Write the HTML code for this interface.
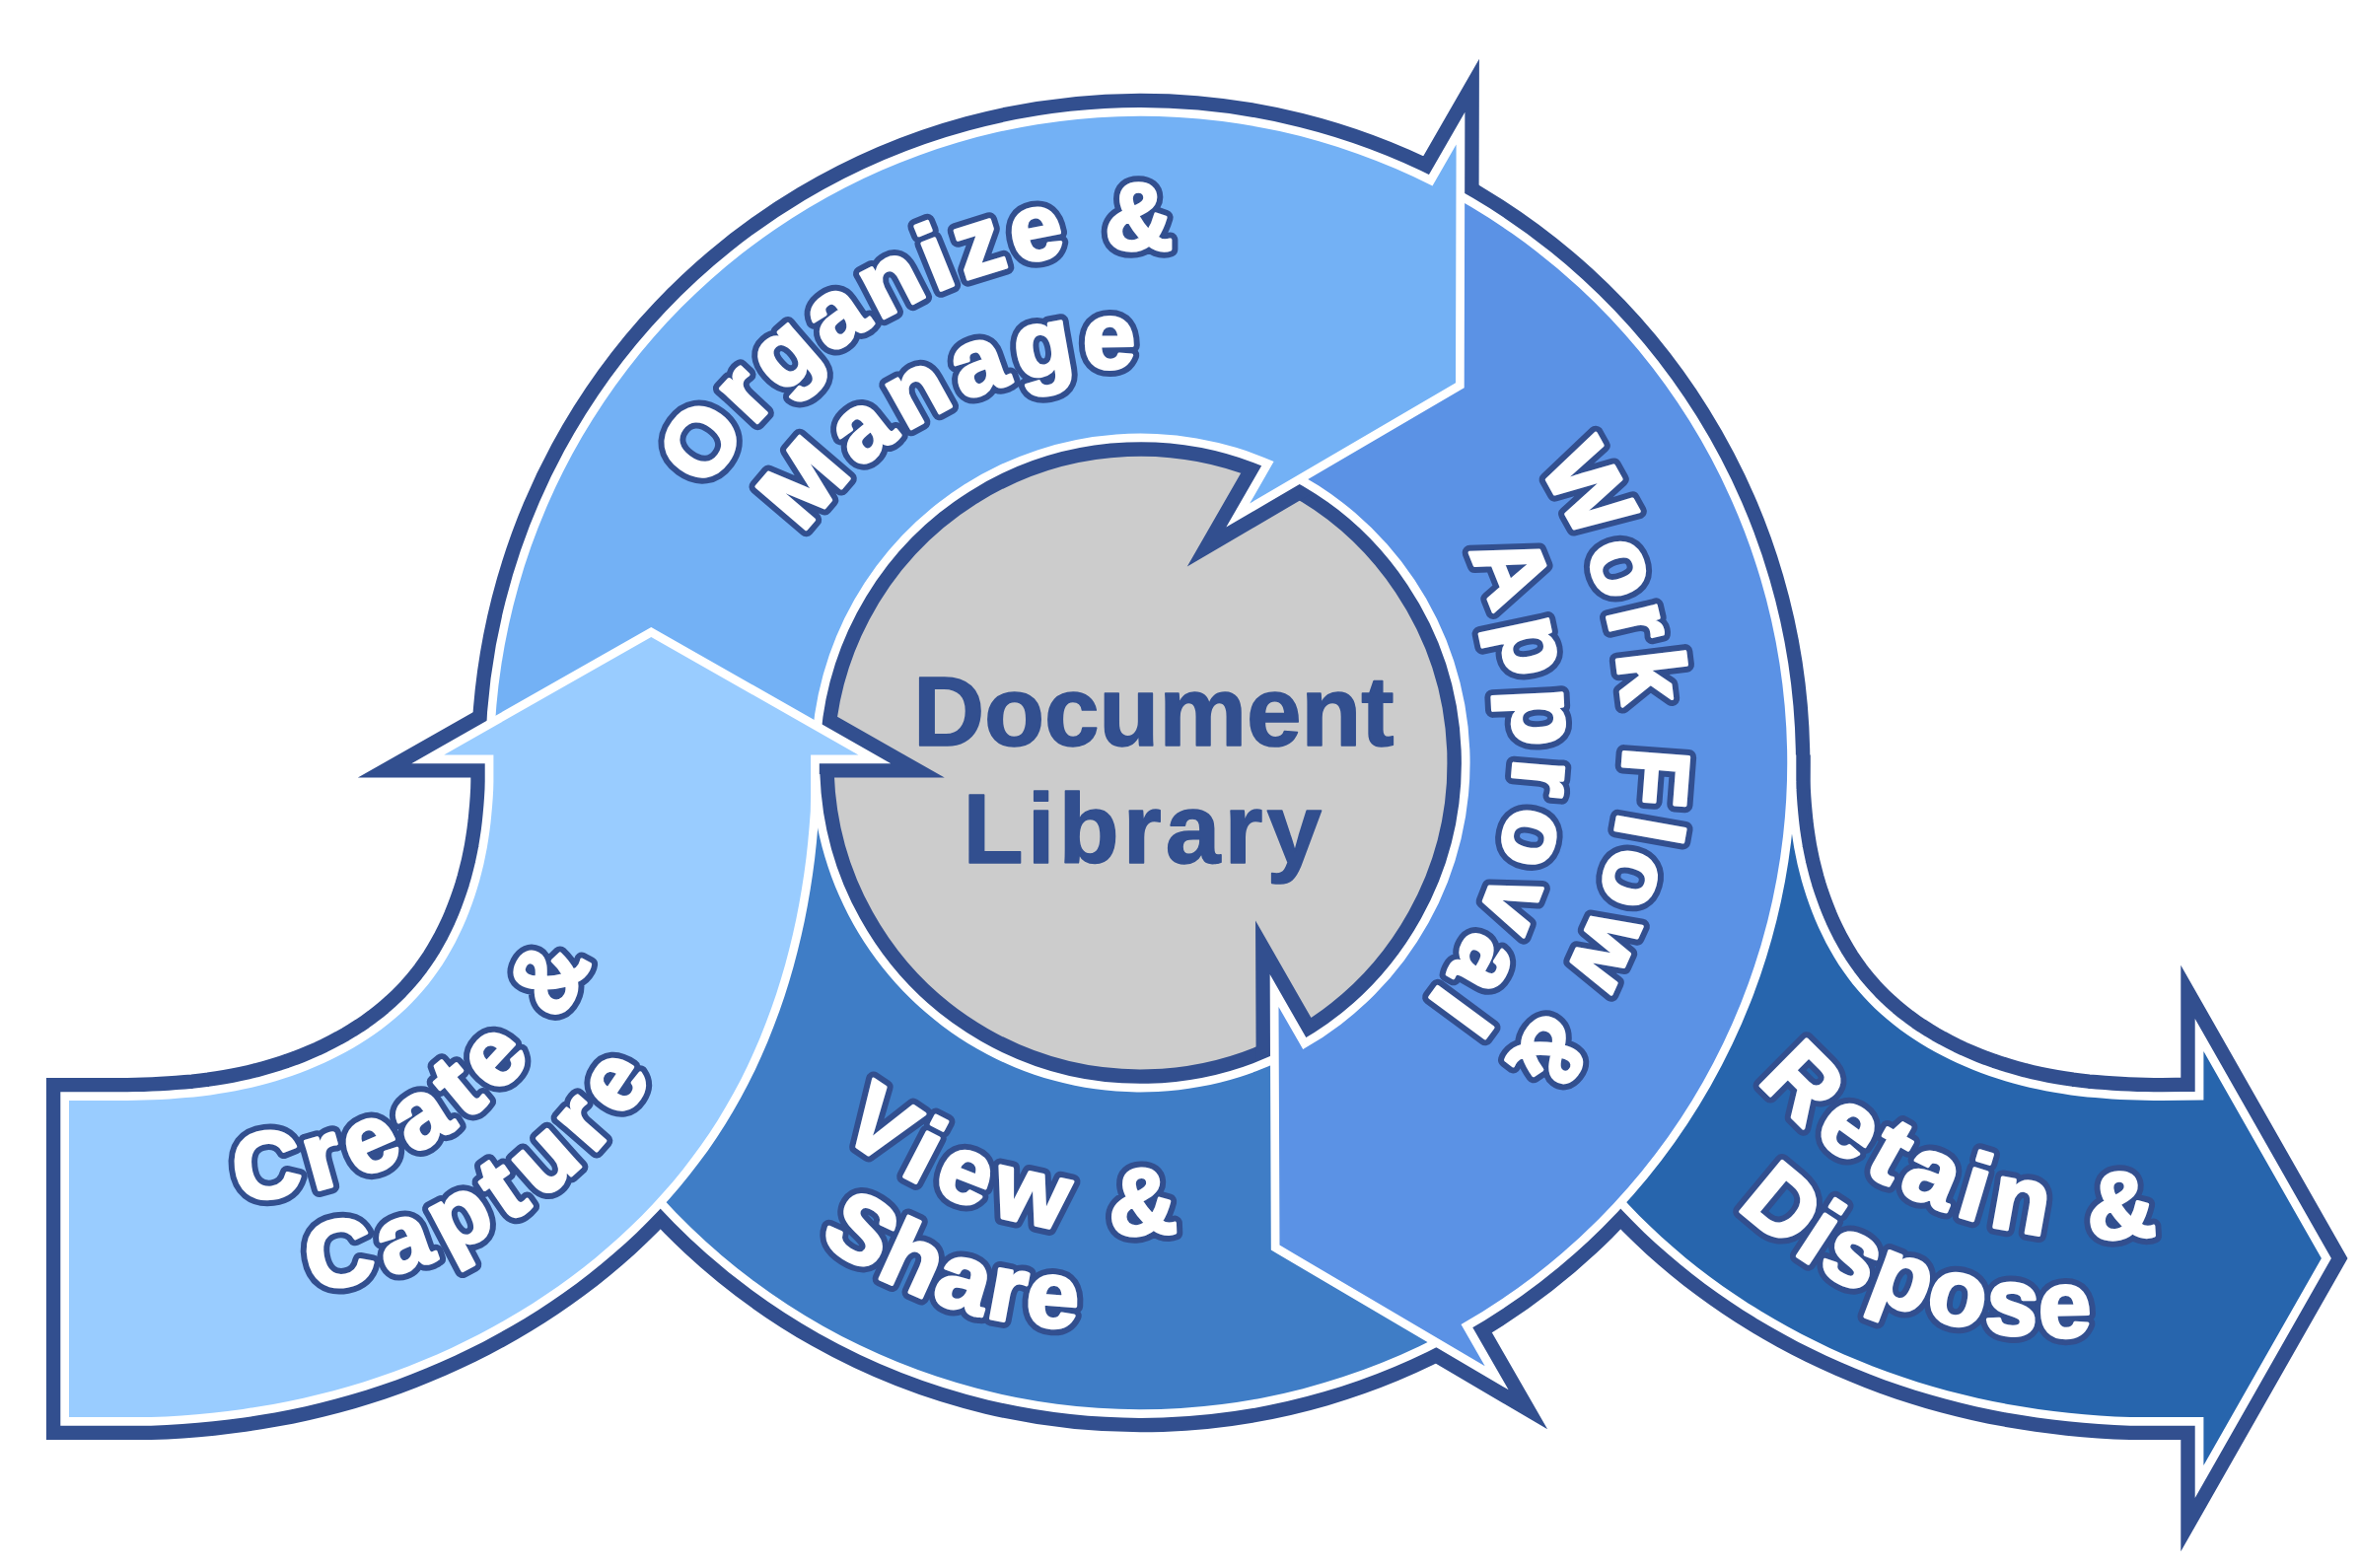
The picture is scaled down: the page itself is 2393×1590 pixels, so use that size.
<!DOCTYPE html>
<html><head><meta charset="utf-8"><title>Document Library Lifecycle</title>
<style>
html,body{margin:0;padding:0;background:#fff;}
body{width:2393px;height:1590px;overflow:hidden;}
svg{display:block;}
text{font-family:"Liberation Sans",sans-serif;font-weight:bold;}
text{font-kerning:none;}
.lbl0{fill:#324F8F;stroke:#324F8F;stroke-linejoin:round;}
.lbl1{fill:#fff;stroke:#fff;stroke-linejoin:round;}
.doc{fill:#324F8F;stroke:#324F8F;stroke-width:1.6px;stroke-linejoin:round;}
</style></head><body>
<!-- domain: Diagram -->
<svg width="2393" height="1590" viewBox="0 0 2393 1590">
<rect width="2393" height="1590" fill="#fff"/>
<circle cx="1156.5" cy="773.5" r="322" fill="#CCCCCC"/>
<g fill="none" stroke="#324F8F" stroke-width="46.2" stroke-linejoin="miter" stroke-miterlimit="10">
<path d="M1490.9 765.5 L1490.9 775.7 L1490.9 791.4 L1490.9 807.0 L1491.2 822.7 L1492.4 838.4 L1493.8 854.1 L1495.5 869.8 L1497.6 885.4 L1500.0 901.0 L1502.7 916.6 L1505.7 932.0 L1509.1 947.4 L1512.8 962.7 L1516.8 977.9 L1521.2 993.0 L1525.9 1008.0 L1531.0 1022.8 L1536.5 1037.5 L1542.6 1053.0 L1548.8 1067.3 L1555.3 1081.4 L1562.2 1095.4 L1569.5 1109.1 L1577.2 1122.6 L1585.2 1135.9 L1593.6 1148.9 L1602.3 1161.6 L1611.5 1174.1 L1621.0 1186.4 L1630.8 1198.4 L1641.0 1210.1 L1651.4 1221.5 L1662.2 1232.7 L1673.3 1243.6 L1684.7 1254.3 L1697.2 1265.3 L1709.1 1275.4 L1721.3 1285.2 L1733.8 1294.7 L1746.5 1303.9 L1759.4 1312.8 L1772.5 1321.4 L1785.9 1329.8 L1799.5 1337.8 L1813.2 1345.5 L1827.1 1353.0 L1841.2 1360.1 L1855.4 1366.9 L1869.8 1373.4 L1884.4 1379.6 L1899.0 1385.5 L1913.8 1391.0 L1929.7 1396.6 L1944.6 1401.5 L1959.7 1406.0 L1974.8 1410.2 L1990.0 1414.1 L2005.3 1417.7 L2020.6 1421.0 L2036.0 1423.9 L2051.4 1426.5 L2066.8 1428.9 L2082.3 1430.9 L2097.8 1432.7 L2113.4 1434.2 L2128.9 1435.4 L2144.5 1436.4 L2160.1 1437.0 L2175.7 1437.0 L2192.3 1437.0 L2234.4 1437.0 L2234.4 1486.0 L2353.9 1276.0 L2234.4 1066.0 L2234.4 1115.4 L2192.4 1116.0 L2183.7 1116.0 L2174.9 1115.8 L2166.8 1115.6 L2158.1 1115.3 L2150.0 1114.9 L2141.3 1114.4 L2133.2 1113.8 L2124.5 1113.1 L2116.5 1112.4 L2107.8 1111.4 L2099.8 1110.4 L2091.1 1109.1 L2083.1 1107.8 L2074.4 1106.2 L2066.4 1104.6 L2057.8 1102.7 L2049.8 1100.8 L2041.3 1098.5 L2033.4 1096.2 L2024.9 1093.6 L2017.1 1091.0 L2008.8 1088.0 L2001.1 1085.0 L1992.9 1081.6 L1984.8 1078.1 L1977.4 1074.6 L1969.5 1070.6 L1962.3 1066.8 L1954.7 1062.5 L1947.7 1058.3 L1940.3 1053.6 L1933.6 1049.1 L1926.6 1044.0 L1920.2 1039.1 L1913.5 1033.6 L1907.4 1028.3 L1901.1 1022.5 L1895.4 1016.8 L1889.5 1010.6 L1884.2 1004.6 L1878.7 997.9 L1873.8 991.6 L1868.8 984.5 L1864.3 977.9 L1859.7 970.5 L1855.7 963.5 L1851.5 955.9 L1847.6 948.1 L1844.1 940.8 L1840.6 932.7 L1837.6 925.2 L1834.5 916.9 L1831.8 909.2 L1829.1 900.8 L1826.8 892.9 L1824.6 884.4 L1822.6 876.4 L1820.8 867.8 L1819.2 859.7 L1817.8 851.0 L1816.6 842.9 L1815.5 834.2 L1814.7 826.1 L1813.9 817.3 L1813.3 809.2 L1812.8 800.4 L1812.6 792.2 L1812.6 783.5 L1812.6 775.3 L1812.6 765.5"/>
<path d="M501.2 796.4 A655.7 655.7 0 0 0 1476.3 1345.9 M1315.9 1067.0 A334.0 334.0 0 0 1 822.7 785.2"/>
<path d="M1457.8 191.1 A655.7 655.7 0 0 1 1481.5 1343.0 L1505.7 1385.2 L1297.5 1262.6 L1296.5 1021.0 L1321.2 1064.1 A334.0 334.0 0 0 0 1297.1 470.5"/>
<path d="M501.0 756.3 A655.7 655.7 0 0 1 1452.5 188.4 L1476.6 146.5 L1476.0 388.3 L1267.2 510.5 L1291.6 468.1 A334.0 334.0 0 0 0 822.6 764.8"/>
<path d="M70.0 1116.0 L120.6 1116.0 L129.3 1116.0 L138.1 1115.8 L146.2 1115.6 L154.9 1115.3 L163.0 1114.9 L171.7 1114.4 L179.8 1113.8 L188.5 1113.1 L196.5 1112.4 L205.2 1111.4 L213.2 1110.4 L221.9 1109.1 L229.9 1107.8 L238.6 1106.2 L246.6 1104.6 L255.2 1102.7 L263.2 1100.8 L271.7 1098.5 L279.6 1096.2 L288.1 1093.6 L295.9 1091.0 L304.2 1088.0 L311.9 1085.0 L320.1 1081.6 L328.2 1078.1 L335.6 1074.6 L343.5 1070.6 L350.7 1066.8 L358.3 1062.5 L365.3 1058.3 L372.7 1053.6 L379.4 1049.1 L386.4 1044.0 L392.8 1039.1 L399.5 1033.6 L405.6 1028.3 L411.9 1022.5 L417.6 1016.8 L423.5 1010.6 L428.8 1004.6 L434.3 997.9 L439.2 991.6 L444.2 984.5 L448.7 977.9 L453.3 970.5 L457.3 963.5 L461.5 955.9 L465.4 948.1 L468.9 940.8 L472.4 932.7 L475.4 925.2 L478.5 916.9 L481.2 909.2 L483.9 900.8 L486.2 892.9 L488.4 884.4 L490.4 876.4 L492.2 867.8 L493.8 859.7 L495.2 851.0 L496.4 842.9 L497.5 834.2 L498.3 826.1 L499.1 817.3 L499.7 809.2 L500.2 800.4 L500.4 792.2 L500.4 783.5 L500.4 775.3 L500.4 765.5 L450.2 765.5 L660.3 646.0 L870.4 765.5 L822.1 765.5 L822.1 775.7 L822.1 791.4 L822.1 807.0 L821.8 822.7 L820.6 838.4 L819.2 854.1 L817.5 869.8 L815.4 885.4 L813.0 901.0 L810.3 916.6 L807.3 932.0 L803.9 947.4 L800.2 962.7 L796.2 977.9 L791.8 993.0 L787.1 1008.0 L782.0 1022.8 L776.5 1037.5 L770.4 1053.0 L764.2 1067.3 L757.7 1081.4 L750.8 1095.4 L743.5 1109.1 L735.8 1122.6 L727.8 1135.9 L719.4 1148.9 L710.7 1161.6 L701.5 1174.1 L692.0 1186.4 L682.2 1198.4 L672.0 1210.1 L661.6 1221.5 L650.8 1232.7 L639.7 1243.6 L628.3 1254.3 L615.8 1265.3 L603.9 1275.4 L591.7 1285.2 L579.2 1294.7 L566.5 1303.9 L553.6 1312.8 L540.5 1321.4 L527.1 1329.8 L513.5 1337.8 L499.8 1345.5 L485.9 1353.0 L471.8 1360.1 L457.6 1366.9 L443.2 1373.4 L428.6 1379.6 L414.0 1385.5 L399.2 1391.0 L383.3 1396.6 L368.4 1401.5 L353.3 1406.0 L338.2 1410.2 L323.0 1414.1 L307.7 1417.7 L292.4 1421.0 L277.0 1423.9 L261.6 1426.5 L246.2 1428.9 L230.7 1430.9 L215.2 1432.7 L199.6 1434.2 L184.1 1435.4 L168.5 1436.4 L152.9 1437.0 L137.3 1437.0 L120.7 1437.0 L70.0 1437.0 Z"/>
</g>
<path d="M1490.9 765.5 L1490.9 775.7 L1490.9 791.4 L1490.9 807.0 L1491.2 822.7 L1492.4 838.4 L1493.8 854.1 L1495.5 869.8 L1497.6 885.4 L1500.0 901.0 L1502.7 916.6 L1505.7 932.0 L1509.1 947.4 L1512.8 962.7 L1516.8 977.9 L1521.2 993.0 L1525.9 1008.0 L1531.0 1022.8 L1536.5 1037.5 L1542.6 1053.0 L1548.8 1067.3 L1555.3 1081.4 L1562.2 1095.4 L1569.5 1109.1 L1577.2 1122.6 L1585.2 1135.9 L1593.6 1148.9 L1602.3 1161.6 L1611.5 1174.1 L1621.0 1186.4 L1630.8 1198.4 L1641.0 1210.1 L1651.4 1221.5 L1662.2 1232.7 L1673.3 1243.6 L1684.7 1254.3 L1697.2 1265.3 L1709.1 1275.4 L1721.3 1285.2 L1733.8 1294.7 L1746.5 1303.9 L1759.4 1312.8 L1772.5 1321.4 L1785.9 1329.8 L1799.5 1337.8 L1813.2 1345.5 L1827.1 1353.0 L1841.2 1360.1 L1855.4 1366.9 L1869.8 1373.4 L1884.4 1379.6 L1899.0 1385.5 L1913.8 1391.0 L1929.7 1396.6 L1944.6 1401.5 L1959.7 1406.0 L1974.8 1410.2 L1990.0 1414.1 L2005.3 1417.7 L2020.6 1421.0 L2036.0 1423.9 L2051.4 1426.5 L2066.8 1428.9 L2082.3 1430.9 L2097.8 1432.7 L2113.4 1434.2 L2128.9 1435.4 L2144.5 1436.4 L2160.1 1437.0 L2175.7 1437.0 L2192.3 1437.0 L2234.4 1437.0 L2234.4 1486.0 L2353.9 1276.0 L2234.4 1066.0 L2234.4 1115.4 L2192.4 1116.0 L2183.7 1116.0 L2174.9 1115.8 L2166.8 1115.6 L2158.1 1115.3 L2150.0 1114.9 L2141.3 1114.4 L2133.2 1113.8 L2124.5 1113.1 L2116.5 1112.4 L2107.8 1111.4 L2099.8 1110.4 L2091.1 1109.1 L2083.1 1107.8 L2074.4 1106.2 L2066.4 1104.6 L2057.8 1102.7 L2049.8 1100.8 L2041.3 1098.5 L2033.4 1096.2 L2024.9 1093.6 L2017.1 1091.0 L2008.8 1088.0 L2001.1 1085.0 L1992.9 1081.6 L1984.8 1078.1 L1977.4 1074.6 L1969.5 1070.6 L1962.3 1066.8 L1954.7 1062.5 L1947.7 1058.3 L1940.3 1053.6 L1933.6 1049.1 L1926.6 1044.0 L1920.2 1039.1 L1913.5 1033.6 L1907.4 1028.3 L1901.1 1022.5 L1895.4 1016.8 L1889.5 1010.6 L1884.2 1004.6 L1878.7 997.9 L1873.8 991.6 L1868.8 984.5 L1864.3 977.9 L1859.7 970.5 L1855.7 963.5 L1851.5 955.9 L1847.6 948.1 L1844.1 940.8 L1840.6 932.7 L1837.6 925.2 L1834.5 916.9 L1831.8 909.2 L1829.1 900.8 L1826.8 892.9 L1824.6 884.4 L1822.6 876.4 L1820.8 867.8 L1819.2 859.7 L1817.8 851.0 L1816.6 842.9 L1815.5 834.2 L1814.7 826.1 L1813.9 817.3 L1813.3 809.2 L1812.8 800.4 L1812.6 792.2 L1812.6 783.5 L1812.6 775.3 L1812.6 765.5" fill="none" stroke="#fff" stroke-width="17.4" stroke-linejoin="miter" stroke-miterlimit="10"/>
<path d="M1490.9 765.5 L1490.9 775.7 L1490.9 791.4 L1490.9 807.0 L1491.2 822.7 L1492.4 838.4 L1493.8 854.1 L1495.5 869.8 L1497.6 885.4 L1500.0 901.0 L1502.7 916.6 L1505.7 932.0 L1509.1 947.4 L1512.8 962.7 L1516.8 977.9 L1521.2 993.0 L1525.9 1008.0 L1531.0 1022.8 L1536.5 1037.5 L1542.6 1053.0 L1548.8 1067.3 L1555.3 1081.4 L1562.2 1095.4 L1569.5 1109.1 L1577.2 1122.6 L1585.2 1135.9 L1593.6 1148.9 L1602.3 1161.6 L1611.5 1174.1 L1621.0 1186.4 L1630.8 1198.4 L1641.0 1210.1 L1651.4 1221.5 L1662.2 1232.7 L1673.3 1243.6 L1684.7 1254.3 L1697.2 1265.3 L1709.1 1275.4 L1721.3 1285.2 L1733.8 1294.7 L1746.5 1303.9 L1759.4 1312.8 L1772.5 1321.4 L1785.9 1329.8 L1799.5 1337.8 L1813.2 1345.5 L1827.1 1353.0 L1841.2 1360.1 L1855.4 1366.9 L1869.8 1373.4 L1884.4 1379.6 L1899.0 1385.5 L1913.8 1391.0 L1929.7 1396.6 L1944.6 1401.5 L1959.7 1406.0 L1974.8 1410.2 L1990.0 1414.1 L2005.3 1417.7 L2020.6 1421.0 L2036.0 1423.9 L2051.4 1426.5 L2066.8 1428.9 L2082.3 1430.9 L2097.8 1432.7 L2113.4 1434.2 L2128.9 1435.4 L2144.5 1436.4 L2160.1 1437.0 L2175.7 1437.0 L2192.3 1437.0 L2234.4 1437.0 L2234.4 1486.0 L2353.9 1276.0 L2234.4 1066.0 L2234.4 1115.4 L2192.4 1116.0 L2183.7 1116.0 L2174.9 1115.8 L2166.8 1115.6 L2158.1 1115.3 L2150.0 1114.9 L2141.3 1114.4 L2133.2 1113.8 L2124.5 1113.1 L2116.5 1112.4 L2107.8 1111.4 L2099.8 1110.4 L2091.1 1109.1 L2083.1 1107.8 L2074.4 1106.2 L2066.4 1104.6 L2057.8 1102.7 L2049.8 1100.8 L2041.3 1098.5 L2033.4 1096.2 L2024.9 1093.6 L2017.1 1091.0 L2008.8 1088.0 L2001.1 1085.0 L1992.9 1081.6 L1984.8 1078.1 L1977.4 1074.6 L1969.5 1070.6 L1962.3 1066.8 L1954.7 1062.5 L1947.7 1058.3 L1940.3 1053.6 L1933.6 1049.1 L1926.6 1044.0 L1920.2 1039.1 L1913.5 1033.6 L1907.4 1028.3 L1901.1 1022.5 L1895.4 1016.8 L1889.5 1010.6 L1884.2 1004.6 L1878.7 997.9 L1873.8 991.6 L1868.8 984.5 L1864.3 977.9 L1859.7 970.5 L1855.7 963.5 L1851.5 955.9 L1847.6 948.1 L1844.1 940.8 L1840.6 932.7 L1837.6 925.2 L1834.5 916.9 L1831.8 909.2 L1829.1 900.8 L1826.8 892.9 L1824.6 884.4 L1822.6 876.4 L1820.8 867.8 L1819.2 859.7 L1817.8 851.0 L1816.6 842.9 L1815.5 834.2 L1814.7 826.1 L1813.9 817.3 L1813.3 809.2 L1812.8 800.4 L1812.6 792.2 L1812.6 783.5 L1812.6 775.3 L1812.6 765.5 Z" fill="#2765AD"/>
<path id="tp9" d="M1781.91 1095.48 A455.00 455.00 0 0 0 2478.99 1091.44 A455.00 455.00 0 0 0 2353.97 405.65" fill="none"/><text class="lbl0" font-size="96.0" letter-spacing="9.07" stroke-width="15.6"><textPath href="#tp9" xlink:href="#tp9" startOffset="0">Retain &amp;</textPath></text><text class="lbl1" font-size="96.0" letter-spacing="9.07" stroke-width="3.6"><textPath href="#tp9" xlink:href="#tp9" startOffset="0">Retain &amp;</textPath></text><path id="tp10" d="M1761.07 1223.52 A470.00 470.00 0 0 0 2477.24 1148.59 A470.00 470.00 0 0 0 2279.09 456.31" fill="none"/><text class="lbl0" font-size="96.0" letter-spacing="3.47" stroke-width="15.6"><textPath href="#tp10" xlink:href="#tp10" startOffset="0">Dispose</textPath></text><text class="lbl1" font-size="96.0" letter-spacing="3.47" stroke-width="3.6"><textPath href="#tp10" xlink:href="#tp10" startOffset="0">Dispose</textPath></text>
<path d="M501.2 796.4 A655.7 655.7 0 0 0 1476.3 1345.9 M1315.9 1067.0 A334.0 334.0 0 0 1 822.7 785.2" fill="none" stroke="#fff" stroke-width="17.4" stroke-linejoin="miter" stroke-miterlimit="10"/>
<path d="M501.2 796.4 A655.7 655.7 0 0 0 1476.3 1345.9 L1315.9 1067.0 A334.0 334.0 0 0 1 822.7 785.2 Z" fill="#3F7DC6"/>
<path id="tp5" d="M849.10 1147.60 A477.00 477.00 0 0 0 1565.53 1003.33 A477.00 477.00 0 0 0 1299.04 322.85" fill="none"/><text class="lbl0" font-size="96.0" letter-spacing="10.90" stroke-width="15.6"><textPath href="#tp5" xlink:href="#tp5" startOffset="0">View &amp;</textPath></text><text class="lbl1" font-size="96.0" letter-spacing="10.90" stroke-width="3.6"><textPath href="#tp5" xlink:href="#tp5" startOffset="0">View &amp;</textPath></text><path id="tp6" d="M829.83 1256.43 A450.00 450.00 0 0 0 1501.42 1100.56 A450.00 450.00 0 0 0 1231.30 466.24" fill="none"/><text class="lbl0" font-size="96.0" letter-spacing="3.73" stroke-width="15.6"><textPath href="#tp6" xlink:href="#tp6" startOffset="0">Share</textPath></text><text class="lbl1" font-size="96.0" letter-spacing="3.73" stroke-width="3.6"><textPath href="#tp6" xlink:href="#tp6" startOffset="0">Share</textPath></text>
<path d="M1457.8 191.1 A655.7 655.7 0 0 1 1481.5 1343.0 L1505.7 1385.2 L1297.5 1262.6 L1296.5 1021.0 L1321.2 1064.1 A334.0 334.0 0 0 0 1297.1 470.5" fill="none" stroke="#fff" stroke-width="17.4" stroke-linejoin="miter" stroke-miterlimit="10"/>
<path d="M1457.8 191.1 A655.7 655.7 0 0 1 1481.5 1343.0 L1505.7 1385.2 L1297.5 1262.6 L1296.5 1021.0 L1321.2 1064.1 A334.0 334.0 0 0 0 1297.1 470.5 Z" fill="#5B92E5"/>
<path id="tp3" d="M1558.25 472.75 A490.00 490.00 0 0 1 1361.80 1197.31 A490.00 490.00 0 0 1 682.35 878.03" fill="none"/><text class="lbl0" font-size="96.0" letter-spacing="7.00" stroke-width="15.6"><textPath href="#tp3" xlink:href="#tp3" startOffset="0">Work Flow &amp;</textPath></text><text class="lbl1" font-size="96.0" letter-spacing="7.00" stroke-width="3.6"><textPath href="#tp3" xlink:href="#tp3" startOffset="0">Work Flow &amp;</textPath></text><path id="tp4" d="M1487.97 559.12 A430.00 430.00 0 0 1 1230.99 1165.73 A430.00 430.00 0 0 1 678.22 807.31" fill="none"/><text class="lbl0" font-size="96.0" letter-spacing="9.81" stroke-width="15.6"><textPath href="#tp4" xlink:href="#tp4" startOffset="0">Approval</textPath></text><text class="lbl1" font-size="96.0" letter-spacing="9.81" stroke-width="3.6"><textPath href="#tp4" xlink:href="#tp4" startOffset="0">Approval</textPath></text>
<path d="M501.0 756.3 A655.7 655.7 0 0 1 1452.5 188.4 L1476.6 146.5 L1476.0 388.3 L1267.2 510.5 L1291.6 468.1 A334.0 334.0 0 0 0 822.6 764.8" fill="none" stroke="#fff" stroke-width="17.4" stroke-linejoin="miter" stroke-miterlimit="10"/>
<path d="M501.0 756.3 A655.7 655.7 0 0 1 1452.5 188.4 L1476.6 146.5 L1476.0 388.3 L1267.2 510.5 L1291.6 468.1 A334.0 334.0 0 0 0 822.6 764.8 Z" fill="#73B1F5"/>
<path id="tp1" d="M716.40 498.57 A519.00 519.00 0 0 1 1503.31 384.37 A519.00 519.00 0 0 1 1479.12 1179.15" fill="none"/><text class="lbl0" font-size="96.0" letter-spacing="5.84" stroke-width="15.6"><textPath href="#tp1" xlink:href="#tp1" startOffset="0">Organize &amp;</textPath></text><text class="lbl1" font-size="96.0" letter-spacing="5.84" stroke-width="3.6"><textPath href="#tp1" xlink:href="#tp1" startOffset="0">Organize &amp;</textPath></text><path id="tp2" d="M815.23 542.64 A385.00 385.00 0 0 1 1401.91 481.53 A385.00 385.00 0 0 1 1360.21 1069.91" fill="none"/><text class="lbl0" font-size="96.0" letter-spacing="7.18" stroke-width="15.6"><textPath href="#tp2" xlink:href="#tp2" startOffset="0">Manage</textPath></text><text class="lbl1" font-size="96.0" letter-spacing="7.18" stroke-width="3.6"><textPath href="#tp2" xlink:href="#tp2" startOffset="0">Manage</textPath></text>
<path d="M70.0 1116.0 L120.6 1116.0 L129.3 1116.0 L138.1 1115.8 L146.2 1115.6 L154.9 1115.3 L163.0 1114.9 L171.7 1114.4 L179.8 1113.8 L188.5 1113.1 L196.5 1112.4 L205.2 1111.4 L213.2 1110.4 L221.9 1109.1 L229.9 1107.8 L238.6 1106.2 L246.6 1104.6 L255.2 1102.7 L263.2 1100.8 L271.7 1098.5 L279.6 1096.2 L288.1 1093.6 L295.9 1091.0 L304.2 1088.0 L311.9 1085.0 L320.1 1081.6 L328.2 1078.1 L335.6 1074.6 L343.5 1070.6 L350.7 1066.8 L358.3 1062.5 L365.3 1058.3 L372.7 1053.6 L379.4 1049.1 L386.4 1044.0 L392.8 1039.1 L399.5 1033.6 L405.6 1028.3 L411.9 1022.5 L417.6 1016.8 L423.5 1010.6 L428.8 1004.6 L434.3 997.9 L439.2 991.6 L444.2 984.5 L448.7 977.9 L453.3 970.5 L457.3 963.5 L461.5 955.9 L465.4 948.1 L468.9 940.8 L472.4 932.7 L475.4 925.2 L478.5 916.9 L481.2 909.2 L483.9 900.8 L486.2 892.9 L488.4 884.4 L490.4 876.4 L492.2 867.8 L493.8 859.7 L495.2 851.0 L496.4 842.9 L497.5 834.2 L498.3 826.1 L499.1 817.3 L499.7 809.2 L500.2 800.4 L500.4 792.2 L500.4 783.5 L500.4 775.3 L500.4 765.5 L450.2 765.5 L660.3 646.0 L870.4 765.5 L822.1 765.5 L822.1 775.7 L822.1 791.4 L822.1 807.0 L821.8 822.7 L820.6 838.4 L819.2 854.1 L817.5 869.8 L815.4 885.4 L813.0 901.0 L810.3 916.6 L807.3 932.0 L803.9 947.4 L800.2 962.7 L796.2 977.9 L791.8 993.0 L787.1 1008.0 L782.0 1022.8 L776.5 1037.5 L770.4 1053.0 L764.2 1067.3 L757.7 1081.4 L750.8 1095.4 L743.5 1109.1 L735.8 1122.6 L727.8 1135.9 L719.4 1148.9 L710.7 1161.6 L701.5 1174.1 L692.0 1186.4 L682.2 1198.4 L672.0 1210.1 L661.6 1221.5 L650.8 1232.7 L639.7 1243.6 L628.3 1254.3 L615.8 1265.3 L603.9 1275.4 L591.7 1285.2 L579.2 1294.7 L566.5 1303.9 L553.6 1312.8 L540.5 1321.4 L527.1 1329.8 L513.5 1337.8 L499.8 1345.5 L485.9 1353.0 L471.8 1360.1 L457.6 1366.9 L443.2 1373.4 L428.6 1379.6 L414.0 1385.5 L399.2 1391.0 L383.3 1396.6 L368.4 1401.5 L353.3 1406.0 L338.2 1410.2 L323.0 1414.1 L307.7 1417.7 L292.4 1421.0 L277.0 1423.9 L261.6 1426.5 L246.2 1428.9 L230.7 1430.9 L215.2 1432.7 L199.6 1434.2 L184.1 1435.4 L168.5 1436.4 L152.9 1437.0 L137.3 1437.0 L120.7 1437.0 L70.0 1437.0 Z" fill="none" stroke="#fff" stroke-width="17.4" stroke-linejoin="miter" stroke-miterlimit="10"/>
<path d="M70.0 1116.0 L120.6 1116.0 L129.3 1116.0 L138.1 1115.8 L146.2 1115.6 L154.9 1115.3 L163.0 1114.9 L171.7 1114.4 L179.8 1113.8 L188.5 1113.1 L196.5 1112.4 L205.2 1111.4 L213.2 1110.4 L221.9 1109.1 L229.9 1107.8 L238.6 1106.2 L246.6 1104.6 L255.2 1102.7 L263.2 1100.8 L271.7 1098.5 L279.6 1096.2 L288.1 1093.6 L295.9 1091.0 L304.2 1088.0 L311.9 1085.0 L320.1 1081.6 L328.2 1078.1 L335.6 1074.6 L343.5 1070.6 L350.7 1066.8 L358.3 1062.5 L365.3 1058.3 L372.7 1053.6 L379.4 1049.1 L386.4 1044.0 L392.8 1039.1 L399.5 1033.6 L405.6 1028.3 L411.9 1022.5 L417.6 1016.8 L423.5 1010.6 L428.8 1004.6 L434.3 997.9 L439.2 991.6 L444.2 984.5 L448.7 977.9 L453.3 970.5 L457.3 963.5 L461.5 955.9 L465.4 948.1 L468.9 940.8 L472.4 932.7 L475.4 925.2 L478.5 916.9 L481.2 909.2 L483.9 900.8 L486.2 892.9 L488.4 884.4 L490.4 876.4 L492.2 867.8 L493.8 859.7 L495.2 851.0 L496.4 842.9 L497.5 834.2 L498.3 826.1 L499.1 817.3 L499.7 809.2 L500.2 800.4 L500.4 792.2 L500.4 783.5 L500.4 775.3 L500.4 765.5 L450.2 765.5 L660.3 646.0 L870.4 765.5 L822.1 765.5 L822.1 775.7 L822.1 791.4 L822.1 807.0 L821.8 822.7 L820.6 838.4 L819.2 854.1 L817.5 869.8 L815.4 885.4 L813.0 901.0 L810.3 916.6 L807.3 932.0 L803.9 947.4 L800.2 962.7 L796.2 977.9 L791.8 993.0 L787.1 1008.0 L782.0 1022.8 L776.5 1037.5 L770.4 1053.0 L764.2 1067.3 L757.7 1081.4 L750.8 1095.4 L743.5 1109.1 L735.8 1122.6 L727.8 1135.9 L719.4 1148.9 L710.7 1161.6 L701.5 1174.1 L692.0 1186.4 L682.2 1198.4 L672.0 1210.1 L661.6 1221.5 L650.8 1232.7 L639.7 1243.6 L628.3 1254.3 L615.8 1265.3 L603.9 1275.4 L591.7 1285.2 L579.2 1294.7 L566.5 1303.9 L553.6 1312.8 L540.5 1321.4 L527.1 1329.8 L513.5 1337.8 L499.8 1345.5 L485.9 1353.0 L471.8 1360.1 L457.6 1366.9 L443.2 1373.4 L428.6 1379.6 L414.0 1385.5 L399.2 1391.0 L383.3 1396.6 L368.4 1401.5 L353.3 1406.0 L338.2 1410.2 L323.0 1414.1 L307.7 1417.7 L292.4 1421.0 L277.0 1423.9 L261.6 1426.5 L246.2 1428.9 L230.7 1430.9 L215.2 1432.7 L199.6 1434.2 L184.1 1435.4 L168.5 1436.4 L152.9 1437.0 L137.3 1437.0 L120.7 1437.0 L70.0 1437.0 Z" fill="#99CCFF"/>
<path id="tp7" d="M239.50 1216.50 A400.00 400.00 0 0 0 624.38 739.60 A400.00 400.00 0 0 0 87.89 443.38" fill="none"/><text class="lbl0" font-size="96.0" letter-spacing="9.00" stroke-width="15.6"><textPath href="#tp7" xlink:href="#tp7" startOffset="0">Create &amp;</textPath></text><text class="lbl1" font-size="96.0" letter-spacing="9.00" stroke-width="3.6"><textPath href="#tp7" xlink:href="#tp7" startOffset="0">Create &amp;</textPath></text><path id="tp8" d="M315.22 1308.00 A455.90 455.90 0 0 0 712.16 733.27 A455.90 455.90 0 0 0 77.23 442.17" fill="none"/><text class="lbl0" font-size="96.0" letter-spacing="10.11" stroke-width="15.6"><textPath href="#tp8" xlink:href="#tp8" startOffset="0">Capture</textPath></text><text class="lbl1" font-size="96.0" letter-spacing="10.11" stroke-width="3.6"><textPath href="#tp8" xlink:href="#tp8" startOffset="0">Capture</textPath></text>
<text class="doc" x="926" y="755.7" font-size="100" textLength="487.5" lengthAdjust="spacing">Document</text>
<text class="doc" x="976.5" y="875.4" font-size="100" textLength="363.5" lengthAdjust="spacing">Library</text>
</svg>
</body></html>
